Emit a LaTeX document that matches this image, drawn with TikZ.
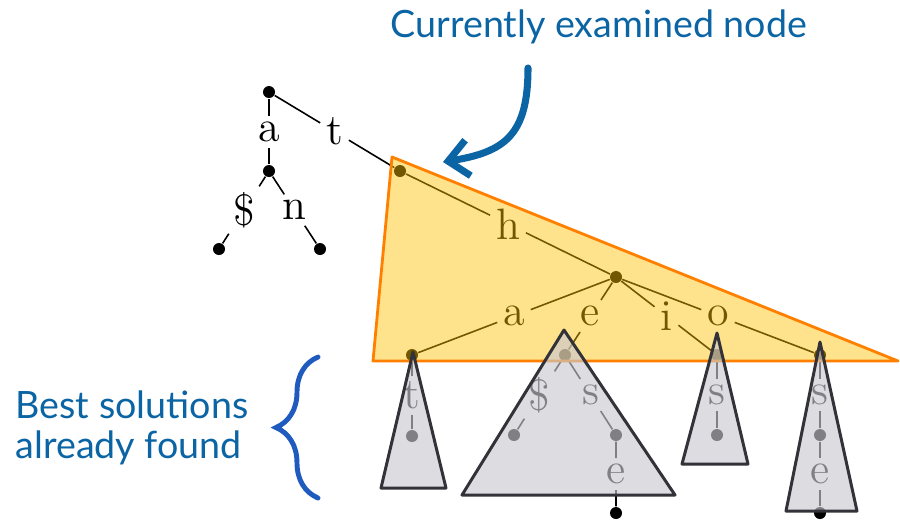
\documentclass[tikz,border=0pt]{standalone}
\usepackage{fontspec}
\newfontfamily\latofont{Lato}
\usetikzlibrary{arrows.meta, calc, decorations.pathreplacing}
\definecolor{cBlue}{HTML}{0B64A3}
\definecolor{cBrace}{HTML}{1F5BBE}
\definecolor{cOrange}{HTML}{FF8000}
\definecolor{fOrange}{HTML}{FFC000}
\definecolor{fGray}{HTML}{C8C8D0}
\definecolor{bGray}{HTML}{323238}
\tikzset{
  dot/.style={circle, fill=black, inner sep=0pt, minimum size=0.12cm},
  lab/.style={font=\fontsize{12.5}{14}\selectfont, inner sep=1.5pt},
  edge/.style={line width=0.45pt},
  hot/.style={draw=cOrange, line width=0.8pt, fill=fOrange, fill opacity=0.45, line join=round},
  done/.style={draw=bGray, line width=0.85pt, fill=fGray, fill opacity=0.64, line join=round},
  note/.style={font=\latofont\fontsize{10.7}{11.4}\selectfont, text=cBlue, inner sep=0pt},
}

\begin{document}
\begin{tikzpicture}[x=0.01cm, y=-0.01cm]
\useasboundingbox (0,0) rectangle (900,520);

% ── trie nodes ──────────────────────────────────────────────────────────────
\node[dot] (R) at (269,92) {};
\node[dot] (A) at (269,171) {};
\node[dot] (T) at (400,171) {};
\node[dot] (L1) at (219,249) {};
\node[dot] (L2) at (320,249) {};
\node[dot] (H) at (616,277) {};
\node[dot] (Ca) at (412,355) {};
\node[dot] (Ce) at (565,355) {};
\node[dot] (Ci) at (717,355) {};
\node[dot] (Co) at (820,355) {};
% below the frontier
\node[dot] (Ct) at (412,436) {};
\node[dot] (E1) at (514,435) {};
\node[dot] (E2) at (616,435) {};
\node[dot] (E3) at (616,513) {};
\node[dot] (I1) at (717,435) {};
\node[dot] (O1) at (820,435) {};
\node[dot] (O2) at (820,513) {};

% ── edge letters ────────────────────────────────────────────────────────────
\node[lab] (xa) at ($(R)!0.5!(A)$) {a};
\node[lab] (xt) at ($(R)!0.5!(T)$) {t};
\node[lab] (xd) at ($(A)!0.5!(L1)$) {\$};
\node[lab] (xn) at ($(A)!0.5!(L2)$) {n};
\node[lab] (xh) at ($(T)!0.5!(H)$) {h};
\node[lab] (ya) at ($(H)!0.5!(Ca)$) {a};
\node[lab] (ye) at ($(H)!0.5!(Ce)$) {e};
\node[lab] (yi) at ($(H)!0.5!(Ci)$) {i};
\node[lab] (yo) at ($(H)!0.5!(Co)$) {o};
\node[lab] (zt) at ($(Ca)!0.5!(Ct)$) {t};
\node[lab] (zd) at ($(Ce)!0.5!(E1)$) {\$};
\node[lab] (zs) at ($(Ce)!0.5!(E2)$) {s};
\node[lab] (ze) at ($(E2)!0.5!(E3)$) {e};
\node[lab] (zi) at ($(Ci)!0.5!(I1)$) {s};
\node[lab] (zo) at ($(Co)!0.5!(O1)$) {s};
\node[lab] (zp) at ($(O1)!0.5!(O2)$) {e};

\draw[edge] (R) -- (xa) -- (A);
\draw[edge] (R) -- (xt) -- (T);
\draw[edge] (A) -- (xd) -- (L1);
\draw[edge] (A) -- (xn) -- (L2);
\draw[edge] (T) -- (xh) -- (H);
\draw[edge] (H) -- (ya) -- (Ca);
\draw[edge] (H) -- (ye) -- (Ce);
\draw[edge] (H) -- (yi) -- (Ci);
\draw[edge] (H) -- (yo) -- (Co);
\draw[edge] (Ca) -- (zt) -- (Ct);
\draw[edge] (Ce) -- (zd) -- (E1);
\draw[edge] (Ce) -- (zs) -- (E2) -- (ze) -- (E3);
\draw[edge] (Ci) -- (zi) -- (I1);
\draw[edge] (Co) -- (zo) -- (O1) -- (zp) -- (O2);

% ── examined subtree and finished subtrees ──────────────────────────────────
\draw[hot] (392,157) -- (373,361) -- (898,361) -- cycle;
\draw[done] (413,352) -- (381,488) -- (446,488) -- cycle;
\draw[done] (564,330) -- (462,495) -- (675,495) -- cycle;
\draw[done] (717,333) -- (682,464) -- (748,464) -- cycle;
\draw[done] (820,342) -- (786,511) -- (857,511) -- cycle;

% ── annotations ─────────────────────────────────────────────────────────────
\node[note, anchor=base] (cur) at (599,37) {Currently examined node};
\coordinate (arrS) at (528,68);
\coordinate (arrE) at (443,162);
\draw[cBlue, line width=2pt, line cap=round, -{Straight Barb[length=0.2cm, width=0.36cm]}]
  (arrS) .. controls (528,135) and (505,152) .. (arrE);

\node[note, align=left, anchor=west] (best) at (15,428) {Best solutions\\already found};
\coordinate (brB) at (318,498);
\coordinate (brT) at (318,357);
\draw[cBrace, line width=1.4pt, line cap=round, decorate, decoration={brace, amplitude=0.42cm}] (brB) -- (brT);

\end{tikzpicture}
\end{document}
